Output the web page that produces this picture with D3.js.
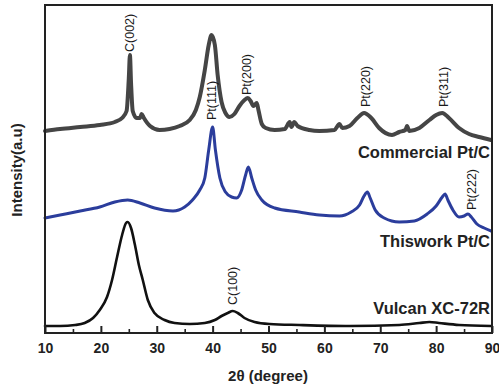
<!DOCTYPE html>
<html>
<head>
<meta charset="utf-8">
<script src="https://cdn.jsdelivr.net/npm/d3@7"></script>
<style>
  html, body { margin: 0; padding: 0; background: #fff; }
  svg { display: block; font-family: "Liberation Sans", Arial, sans-serif; }
</style>
</head>
<body>
<svg id="chart" width="499" height="389"></svg>
<script>
// ---------- data (2θ in degrees, intensity in a.u.) ----------
const xTicks = [10, 20, 30, 40, 50, 60, 70, 80, 90];
const xMinorTicks = [15, 25, 35, 45, 55, 65, 75, 85];

const commercialTheta = [10.0,12.7,16.3,19.8,22.5,23.8,24.6,25.0,25.2,25.4,25.7,26.4,27.0,27.3,27.7,28.8,30.5,32.3,34.1,35.9,37.0,37.7,38.6,39.3,39.8,40.4,40.9,41.6,42.3,43.0,43.9,44.8,45.7,46.3,46.8,47.3,47.9,48.2,48.8,49.5,51.1,52.9,53.8,54.1,54.6,55.2,57.3,59.1,61.8,62.7,63.2,64.5,65.9,67.1,68.4,69.8,72.1,73.4,74.5,74.8,75.2,77.0,78.8,80.0,81.1,82.3,84.1,85.9,87.7,89.8];
const commercialI     = [202,204,206,208,211,215,222,255,278,250,222,215,215,219,215,207,203,204,207,213,223,236,263,288,298,288,258,231,220,216,219,227,233,235,232,227,230,223,209,205,203,204,211,206,211,207,203,202,203,209,205,207,215,220,215,205,198,201,203,207,202,205,213,218,220,215,205,199,196,193];

const thisworkTheta = [10.0,12.7,16.3,19.8,22.5,24.8,27.0,29.6,32.9,35.0,36.4,37.7,38.6,39.3,40.0,40.5,41.3,42.3,43.4,44.3,45.2,45.9,46.4,47.0,47.7,48.8,51.1,55.5,59.1,62.7,64.8,66.3,67.1,67.7,68.2,69.1,70.7,73.4,76.1,78.4,80.0,81.1,81.6,82.1,83.0,84.1,85.0,85.7,86.3,87.3,88.6,89.8];
const thisworkI     = [115,118,122,126,131,133,130,125,122,126,133,143,155,183,206,183,155,141,136,135,143,158,166,155,143,133,125,121,118,117,121,128,137,141,135,123,115,111,112,119,127,136,139,133,123,116,117,119,116,109,105,102];

const vulcanTheta = [10.0,12.7,15.4,17.1,18.6,19.8,21.1,22.0,22.9,23.8,24.5,24.8,25.4,26.1,26.8,27.5,28.4,29.6,31.4,33.2,35.9,38.6,40.4,41.6,42.7,43.6,44.5,45.7,47.5,50.2,55.5,64.5,73.4,77.0,78.8,80.5,84.1,89.8];
const vulcanI     = [7,7,8,10,15,23,36,53,76,98,110,111,105,88,68,53,33,20,13,10,9,10,13,17,20,22,20,15,11,9,8,7,8,10,11,10,8,7];

const seriesNames = ["Commercial Pt/C", "Thiswork Pt/C", "Vulcan XC-72R"];

const peakLabels = ["C(002)", "Pt(111)", "Pt(200)", "Pt(220)", "Pt(311)", "Pt(222)", "C(100)"];
const peakTheta  = [25.2, 39.8, 46.1, 67.5, 81.4, 86.4, 43.6];
const peakI      = [281, 213, 238, 226, 226, 123, 28];

// ---------- layout ----------
const svg = d3.select("#chart");
const mLeft = 45, mRight = 492, mTop = 5, mBottom = 333;

const x = d3.scaleLinear().domain([10, 90]).range([mLeft, mRight]);
const y = d3.scaleLinear().domain([0, 328]).range([mBottom, mTop]);

const line = d3.line()
  .x(d => x(d[0]))
  .y(d => y(d[1]))
  .curve(d3.curveMonotoneX);

const zip = (a, b) => a.map((v, i) => [v, b[i]]);

const series = [
  { name: seriesNames[0], pts: zip(commercialTheta, commercialI), color: "#454545", width: 4.0 },
  { name: seriesNames[1], pts: zip(thisworkTheta, thisworkI),     color: "#2b3d9c", width: 3.0 },
  { name: seriesNames[2], pts: zip(vulcanTheta, vulcanI),         color: "#111111", width: 2.6 }
];

series.forEach(s => {
  svg.append("path")
    .attr("d", line(s.pts))
    .attr("fill", "none")
    .attr("stroke", s.color)
    .attr("stroke-width", s.width)
    .attr("stroke-linejoin", "round")
    .attr("stroke-linecap", "round");
});

// frame
svg.append("rect")
  .attr("x", mLeft).attr("y", mTop)
  .attr("width", mRight - mLeft).attr("height", mBottom - mTop)
  .attr("fill", "none").attr("stroke", "#222").attr("stroke-width", 2);

// bottom axis: major ticks (inward) with labels
const axMajor = svg.append("g")
  .attr("transform", `translate(0,${mBottom})`)
  .call(d3.axisBottom(x).tickValues(xTicks).tickSizeInner(-7).tickSizeOuter(0).tickPadding(10).tickFormat(d3.format("d")));
axMajor.select(".domain").remove();
axMajor.selectAll(".tick line").attr("stroke", "#222").attr("stroke-width", 2);
axMajor.selectAll(".tick text")
  .attr("font-family", "Liberation Sans, Arial, sans-serif")
  .attr("font-size", 14).attr("font-weight", "bold").attr("fill", "#222");

const axMinor = svg.append("g")
  .attr("transform", `translate(0,${mBottom})`)
  .call(d3.axisBottom(x).tickValues(xMinorTicks).tickSizeInner(-4).tickSizeOuter(0).tickFormat(""));
axMinor.select(".domain").remove();
axMinor.selectAll(".tick line").attr("stroke", "#222").attr("stroke-width", 1.6);

// axis titles
svg.append("text")
  .attr("x", 268).attr("y", 381)
  .attr("text-anchor", "middle")
  .attr("font-size", 15).attr("font-weight", "bold").attr("fill", "#222")
  .text("2θ (degree)");

svg.append("text")
  .attr("transform", "translate(22,170) rotate(-90)")
  .attr("text-anchor", "middle")
  .attr("font-size", 15).attr("font-weight", "bold").attr("fill", "#222")
  .text("Intensity(a.u)");

// series labels
const labelBaselines = [158, 247, 314];
seriesNames.forEach((n, i) => {
  svg.append("text")
    .attr("x", mRight - 2).attr("y", labelBaselines[i])
    .attr("text-anchor", "end")
    .attr("font-size", 16.5).attr("font-weight", "bold").attr("fill", "#222")
    .text(n);
});

// peak annotations (rotated)
peakLabels.forEach((t, i) => {
  const px = x(peakTheta[i]), py = y(peakI[i]);
  svg.append("text")
    .attr("transform", `translate(${px},${py}) rotate(-90)`)
    .attr("text-anchor", "start")
    .attr("dominant-baseline", "central")
    .attr("font-size", 12.5).attr("fill", "#1a1a1a")
    .text(t);
});
</script>
</body>
</html>
